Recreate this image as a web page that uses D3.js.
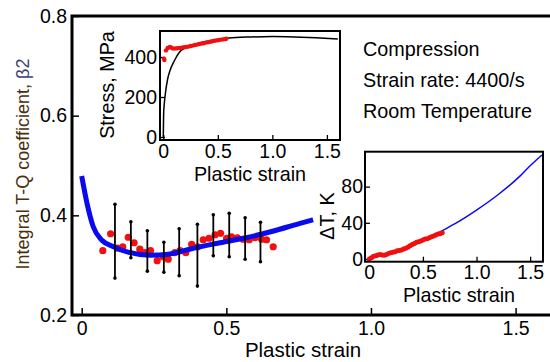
<!DOCTYPE html>
<html>
<head>
<meta charset="utf-8">
<script src="https://cdn.jsdelivr.net/npm/d3@7"></script>
<style>
  body { margin: 0; background: #fff; }
  svg text { font-family: Arial, "Liberation Sans", sans-serif; fill: #000; }
</style>
</head>
<body>
<div id="chart"></div>
<script>
// ---- main plot data: beta2 vs plastic strain ----
const mainFitStrain = [0, 0.02, 0.04, 0.07, 0.11, 0.16, 0.236, 0.3, 0.386, 0.47, 0.56, 0.66, 0.755, 0.8];
const mainFitBeta = [0.479, 0.42, 0.377, 0.35, 0.337, 0.326, 0.32, 0.322, 0.334, 0.344, 0.354, 0.368, 0.384, 0.391];

const dotStrain = [0.073, 0.100, 0.123, 0.142, 0.161, 0.181, 0.201, 0.219, 0.238, 0.261, 0.282, 0.299, 0.322, 0.340, 0.360,
  0.380, 0.401, 0.420, 0.440, 0.461, 0.480, 0.501, 0.518, 0.538, 0.558, 0.579, 0.599, 0.622, 0.639, 0.662];
const dotBeta = [0.329, 0.363, 0.334, 0.337, 0.356, 0.345, 0.332, 0.325, 0.329, 0.309, 0.317, 0.312, 0.325, 0.329, 0.325,
  0.342, 0.337, 0.351, 0.354, 0.361, 0.364, 0.354, 0.357, 0.355, 0.352, 0.351, 0.355, 0.352, 0.351, 0.337];

const errStrain = [0.115, 0.170, 0.227, 0.284, 0.337, 0.400, 0.455, 0.510, 0.565, 0.618];
const errTop = [0.422, 0.387, 0.369, 0.346, 0.373, 0.382, 0.401, 0.404, 0.395, 0.386];
const errBottom = [0.274, 0.315, 0.288, 0.286, 0.279, 0.258, 0.319, 0.317, 0.312, 0.307];

// ---- inset 1: stress vs plastic strain ----
const stressFitStrain = [0, 0.003, 0.01, 0.02, 0.04, 0.06, 0.1, 0.15, 0.2, 0.3, 0.4, 0.5, 0.6, 0.8, 1.0, 1.2, 1.4, 1.6];
const stressFit = [0, 110, 170, 220, 290, 330, 380, 425, 445, 465, 478, 488, 495, 500, 502, 500, 496, 490];
const stressDotStrain = [0.006, 0.01, 0.025, 0.04, 0.06, 0.075, 0.09, 0.11, 0.13, 0.15, 0.17, 0.19, 0.21, 0.23, 0.25,
  0.27, 0.29, 0.31, 0.33, 0.35, 0.37, 0.39, 0.41, 0.43, 0.45, 0.47, 0.49, 0.51, 0.53, 0.55, 0.57, 0.58];
const stressDot = [392, 385, 433, 445, 450, 446, 442, 443, 444, 445, 447, 449, 450, 452, 455,
  457, 460, 462, 465, 467, 469, 472, 474, 476, 479, 481, 483, 485, 487, 488, 490, 492];

// ---- inset 2: temperature rise vs plastic strain ----
const tempFitStrain = [0, 0.25, 0.5, 0.69, 0.8, 1.0, 1.2, 1.4, 1.5, 1.61];
const tempFit = [0, 9, 20, 32, 39, 54, 71, 91, 103, 115];
const tempDotStrain = [0, 0.02, 0.04, 0.06, 0.08, 0.1, 0.12, 0.14, 0.16, 0.18, 0.2, 0.22, 0.24, 0.26, 0.28, 0.3, 0.32,
  0.34, 0.36, 0.38, 0.4, 0.42, 0.44, 0.46, 0.48, 0.5, 0.52, 0.54, 0.56, 0.58, 0.6, 0.62, 0.64, 0.66, 0.68];
const tempDot = [0, 1.5, 3, 3.5, 4.5, 5, 4.5, 4, 5, 6, 7, 7.5, 8, 9, 9.5, 10, 11,
  12, 13, 14.5, 16, 17, 18.5, 19, 20, 21, 22, 22.5, 23.5, 24.5, 25.5, 26.5, 27.5, 28, 29];

const annotations = ['Compression', 'Strain rate: 4400/s', 'Room Temperature'];

const W = 550, H = 362;
const svg = d3.select('#chart').append('svg').attr('width', W).attr('height', H);

// ---------- main plot ----------
const x = d3.scaleLinear().domain([-0.0335, 1.65]).range([72, 559]);
const y = d3.scaleLinear().domain([0.2, 0.8]).range([315, 16]);

const main = svg.append('g');

main.append('g')
  .attr('transform', 'translate(0,315)')
  .call(d3.axisBottom(x).tickValues([0, 0.5, 1.0, 1.5])
    .tickFormat(d => d === 0 ? '0' : d3.format('.1f')(d))
    .tickSizeInner(-7).tickSizeOuter(0).tickPadding(6))
  .call(g => g.select('.domain').remove())
  .call(g => g.selectAll('line').attr('stroke', '#000').attr('stroke-width', 1.5))
  .call(g => g.selectAll('text').style('font-size', '19.5px').attr('fill', '#000'));

main.append('g')
  .attr('transform', 'translate(72,0)')
  .call(d3.axisLeft(y).tickValues([0.2, 0.4, 0.6, 0.8])
    .tickFormat(d3.format('.1f'))
    .tickSizeInner(-7).tickSizeOuter(0).tickPadding(5))
  .call(g => g.select('.domain').remove())
  .call(g => g.selectAll('line').attr('stroke', '#000').attr('stroke-width', 1.5))
  .call(g => g.selectAll('text').style('font-size', '19.5px').attr('fill', '#000'));

// frame (right side runs off the picture)
main.append('path')
  .attr('d', `M${W + 5},16 H72 V315 H${W + 5}`)
  .attr('fill', 'none').attr('stroke', '#000').attr('stroke-width', 3);

// red data points
main.selectAll('.dot')
  .data(dotStrain.map((s, i) => [s, dotBeta[i]]))
  .join('circle')
  .attr('class', 'dot')
  .attr('cx', d => x(d[0]))
  .attr('cy', d => y(d[1]))
  .attr('r', 3.6)
  .attr('fill', '#f01010');

// blue fit
const mainLine = d3.line().curve(d3.curveMonotoneX)
  .x(d => x(d[0])).y(d => y(d[1]));
main.append('path')
  .datum(mainFitStrain.map((s, i) => [s, mainFitBeta[i]]))
  .attr('d', mainLine)
  .attr('fill', 'none').attr('stroke', '#0a0af0').attr('stroke-width', 5);

// error bars
const errs = errStrain.map((s, i) => ({ s, top: errTop[i], bottom: errBottom[i] }));
main.selectAll('.err')
  .data(errs)
  .join('line')
  .attr('class', 'err')
  .attr('x1', d => x(d.s)).attr('x2', d => x(d.s))
  .attr('y1', d => y(d.top)).attr('y2', d => y(d.bottom))
  .attr('stroke', '#000').attr('stroke-width', 1.8);
main.selectAll('.cap')
  .data(errs.flatMap(d => [[d.s, d.top], [d.s, d.bottom]]))
  .join('circle')
  .attr('class', 'cap')
  .attr('cx', d => x(d[0])).attr('cy', d => y(d[1]))
  .attr('r', 1.8).attr('fill', '#000');

// axis titles
main.append('text')
  .attr('x', 303).attr('y', 357)
  .attr('text-anchor', 'middle')
  .style('font-size', '20.5px')
  .text('Plastic strain');

const yTitle = main.append('text')
  .attr('transform', 'translate(29,164) rotate(-90)')
  .attr('text-anchor', 'middle')
  .style('font-size', '18px');
yTitle.append('tspan').attr('fill', '#4a2f0c').text('Integral T-Q coefficient, ');
yTitle.append('tspan').attr('fill', '#3a4470').text('\u03b22');

// annotations
main.selectAll('.note')
  .data(annotations)
  .join('text')
  .attr('class', 'note')
  .attr('x', 363)
  .attr('y', (d, i) => [56, 87, 118][i])
  .style('font-size', '19.8px')
  .text(d => d);

// ---------- inset helper ----------
function drawInset(opt) {
  const g = svg.append('g');
  const [x0, x1] = opt.xs.range();
  const [y0, y1] = opt.ys.range();
  g.append('rect')
    .attr('x', x0).attr('y', y1).attr('width', x1 - x0).attr('height', y0 - y1)
    .attr('fill', '#fff');
  g.append('g')
    .attr('transform', `translate(0,${y0})`)
    .call(d3.axisBottom(opt.xs).tickValues([0, 0.5, 1.0, 1.5])
      .tickFormat(d => d === 0 ? '0' : d3.format('.1f')(d))
      .tickSizeInner(-5).tickSizeOuter(0).tickPadding(opt.xPad))
    .call(a => a.select('.domain').remove())
    .call(a => a.selectAll('line').attr('stroke', '#000').attr('stroke-width', 1.3))
    .call(a => a.selectAll('text').style('font-size', '19.5px').attr('fill', '#000'));
  g.append('g')
    .attr('transform', `translate(${x0},0)`)
    .call(d3.axisLeft(opt.ys).tickValues(opt.yTicks)
      .tickSizeInner(-5).tickSizeOuter(0).tickPadding(opt.yPad))
    .call(a => a.select('.domain').remove())
    .call(a => a.selectAll('line').attr('stroke', '#000').attr('stroke-width', 1.3))
    .call(a => a.selectAll('text').style('font-size', '19.5px').attr('fill', '#000'));
  g.append('text')
    .attr('x', opt.xTitle[0]).attr('y', opt.xTitle[1])
    .attr('text-anchor', 'middle').style('font-size', '19.8px')
    .text('Plastic strain');
  g.append('text')
    .attr('transform', `translate(${opt.yTitle[0]},${opt.yTitle[1]}) rotate(-90)`)
    .attr('text-anchor', 'middle').style('font-size', '19.8px')
    .text(opt.yLabel);
  const plot = g.append('g');
  g.append('rect')
    .attr('x', x0).attr('y', y1).attr('width', x1 - x0).attr('height', y0 - y1)
    .attr('fill', 'none').attr('stroke', '#000').attr('stroke-width', 2);
  return plot;
}

// ---------- inset 1: stress ----------
const xs1 = d3.scaleLinear().domain([-0.03, 1.62]).range([160, 340]);
const ys1 = d3.scaleLinear().domain([-15, 530]).range([140, 31]);
const p1 = drawInset({ xs: xs1, ys: ys1, yTicks: [0, 200, 400], xPad: 4, yPad: 3,
  xTitle: [250, 181], yTitle: [114, 85], yLabel: 'Stress, MPa' });

p1.append('path')
  .datum(stressFitStrain.map((s, i) => [s, stressFit[i]]))
  .attr('d', d3.line().curve(d3.curveMonotoneX).x(d => xs1(d[0])).y(d => ys1(d[1])))
  .attr('fill', 'none').attr('stroke', '#000').attr('stroke-width', 1.5);

p1.selectAll('circle')
  .data(stressDotStrain.map((s, i) => [s, stressDot[i]]))
  .join('circle')
  .attr('cx', d => xs1(d[0])).attr('cy', d => ys1(d[1]))
  .attr('r', 2.2).attr('fill', '#f01010');

// ---------- inset 2: temperature ----------
const xs2 = d3.scaleLinear().domain([-0.04, 1.62]).range([365, 543]);
const ys2 = d3.scaleLinear().domain([-3, 118.6]).range([261.7, 151.7]);
const p2 = drawInset({ xs: xs2, ys: ys2, yTicks: [0, 40, 80], xPad: 3, yPad: 2,
  xTitle: [459, 302], yTitle: [334, 216], yLabel: '\u0394T, K' });

p2.append('path')
  .datum(tempFitStrain.map((s, i) => [s, tempFit[i]]))
  .attr('d', d3.line().curve(d3.curveMonotoneX).x(d => xs2(d[0])).y(d => ys2(d[1])))
  .attr('fill', 'none').attr('stroke', '#0a0af0').attr('stroke-width', 1.5);

p2.selectAll('circle')
  .data(tempDotStrain.map((s, i) => [s, tempDot[i]]))
  .join('circle')
  .attr('cx', d => xs2(d[0])).attr('cy', d => ys2(d[1]))
  .attr('r', 2.5).attr('fill', '#f01010');
</script>
</body>
</html>
